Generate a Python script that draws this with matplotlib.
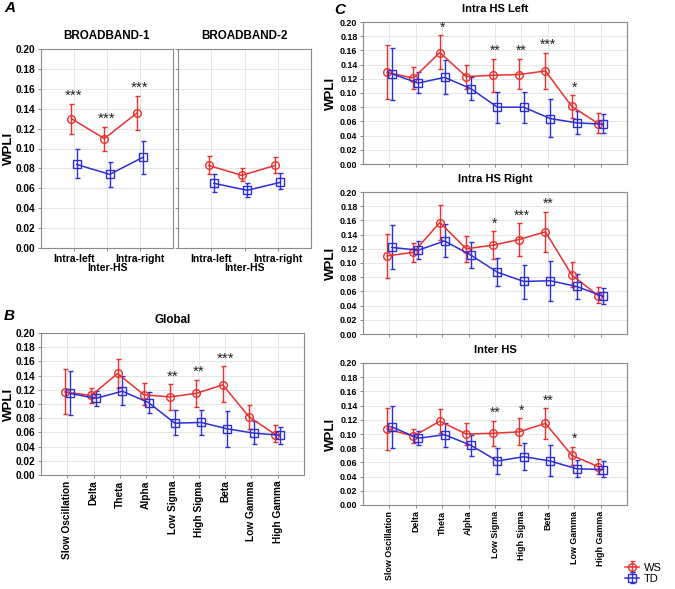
import matplotlib
matplotlib.use("Agg")
import matplotlib.pyplot as plt

plt.rcParams["font.family"] = ["Liberation Sans", "DejaVu Sans"]
plt.rcParams["font.weight"] = "bold"

# ---------------------------------------------------------------------------
# Data
# ---------------------------------------------------------------------------
A_CATS = ["Intra-left", "Inter-HS", "Intra-right"]

BB1_WS = [0.130, 0.110, 0.136]
BB1_WS_LO = [0.115, 0.097, 0.119]
BB1_WS_HI = [0.145, 0.122, 0.153]
BB1_TD = [0.084, 0.074, 0.091]
BB1_TD_LO = [0.070, 0.061, 0.074]
BB1_TD_HI = [0.099, 0.086, 0.108]
BB1_STARS = ["***", "***", "***"]

BB2_WS = [0.083, 0.073, 0.083]
BB2_WS_LO = [0.074, 0.067, 0.075]
BB2_WS_HI = [0.092, 0.080, 0.091]
BB2_TD = [0.065, 0.058, 0.066]
BB2_TD_LO = [0.056, 0.051, 0.059]
BB2_TD_HI = [0.074, 0.065, 0.075]
BB2_STARS = ["", "", ""]

BANDS = ["Slow Oscillation", "Delta", "Theta", "Alpha", "Low Sigma",
         "High Sigma", "Beta", "Low Gamma", "High Gamma"]

GL_WS = [0.117, 0.112, 0.143, 0.113, 0.110, 0.115, 0.127, 0.082, 0.057]
GL_WS_LO = [0.086, 0.101, 0.123, 0.099, 0.092, 0.096, 0.103, 0.065, 0.046]
GL_WS_HI = [0.149, 0.123, 0.164, 0.129, 0.128, 0.134, 0.153, 0.098, 0.070]
GL_TD = [0.115, 0.108, 0.118, 0.102, 0.073, 0.074, 0.065, 0.059, 0.056]
GL_TD_LO = [0.084, 0.097, 0.098, 0.088, 0.056, 0.056, 0.040, 0.043, 0.043]
GL_TD_HI = [0.147, 0.119, 0.139, 0.117, 0.091, 0.092, 0.090, 0.076, 0.068]
GL_STARS = ["", "", "", "", "**", "**", "***", "", ""]

HL_WS = [0.129, 0.121, 0.157, 0.123, 0.125, 0.126, 0.131, 0.081, 0.057]
HL_WS_LO = [0.092, 0.106, 0.134, 0.106, 0.102, 0.105, 0.105, 0.065, 0.044]
HL_WS_HI = [0.167, 0.136, 0.181, 0.140, 0.148, 0.148, 0.157, 0.097, 0.072]
HL_TD = [0.127, 0.114, 0.122, 0.106, 0.080, 0.080, 0.064, 0.058, 0.056]
HL_TD_LO = [0.090, 0.100, 0.099, 0.090, 0.058, 0.058, 0.038, 0.042, 0.043]
HL_TD_HI = [0.164, 0.129, 0.146, 0.122, 0.102, 0.102, 0.091, 0.074, 0.071]
HL_STARS = ["", "", "*", "", "**", "**", "***", "*", ""]

HR_WS = [0.110, 0.115, 0.157, 0.120, 0.125, 0.133, 0.144, 0.083, 0.054]
HR_WS_LO = [0.079, 0.102, 0.133, 0.102, 0.105, 0.110, 0.116, 0.066, 0.043]
HR_WS_HI = [0.141, 0.128, 0.181, 0.138, 0.145, 0.156, 0.172, 0.101, 0.066]
HR_TD = [0.122, 0.118, 0.131, 0.111, 0.087, 0.074, 0.075, 0.067, 0.053]
HR_TD_LO = [0.092, 0.105, 0.108, 0.093, 0.067, 0.050, 0.047, 0.049, 0.042]
HR_TD_HI = [0.153, 0.131, 0.155, 0.129, 0.107, 0.097, 0.103, 0.085, 0.065]
HR_STARS = ["", "", "", "", "*", "***", "**", "", ""]

IH_WS = [0.107, 0.097, 0.118, 0.100, 0.101, 0.103, 0.115, 0.070, 0.054]
IH_WS_LO = [0.077, 0.088, 0.101, 0.085, 0.083, 0.085, 0.093, 0.057, 0.043]
IH_WS_HI = [0.137, 0.107, 0.135, 0.115, 0.119, 0.122, 0.136, 0.082, 0.065]
IH_TD = [0.110, 0.094, 0.099, 0.084, 0.062, 0.068, 0.062, 0.051, 0.050]
IH_TD_LO = [0.080, 0.084, 0.082, 0.069, 0.043, 0.049, 0.041, 0.039, 0.039]
IH_TD_HI = [0.140, 0.104, 0.116, 0.098, 0.080, 0.088, 0.084, 0.064, 0.062]
IH_STARS = ["", "", "", "", "**", "*", "**", "*", ""]

YTICKS = [0.00, 0.02, 0.04, 0.06, 0.08, 0.10, 0.12, 0.14, 0.16, 0.18, 0.20]

# ---------------------------------------------------------------------------
# Style
# ---------------------------------------------------------------------------
C_WS = "#e8312f"
C_TD = "#2e2ed6"
W, H = 675, 589


def _rect(left, top, right, bottom):
    return [left / W, 1 - bottom / H, (right - left) / W, (bottom - top) / H]


def _series(ax, xs, mean, lo, hi, color, marker, label):
    yerr = [[m - l for m, l in zip(mean, lo)], [h - m for m, h in zip(mean, hi)]]
    return ax.errorbar(xs, mean, yerr=yerr, color=color, marker=marker,
                       markersize=5.5, markerfacecolor="none", markeredgewidth=1.0,
                       linewidth=1.1, elinewidth=1.0, capsize=1.8, capthick=1.0,
                       label=label, zorder=3)


def _panel(ax, cats, ws, ws_lo, ws_hi, td, td_lo, td_hi, stars, title,
           off=0.09, rotate=False, ylabels=True, xlabels=True, stagger=False,
           tick_fs=7.3, title_fs=8.4, star_fs=11, label_x=-0.1):
    n = len(cats)
    xs = list(range(n))
    h_ws = _series(ax, [x - off for x in xs], ws, ws_lo, ws_hi, C_WS, "o", "WS")
    h_td = _series(ax, [x + off for x in xs], td, td_lo, td_hi, C_TD, "s", "TD")
    for x, s, top in zip(xs, stars, ws_hi):
        if s:
            ax.text(x, top + 0.001, s, ha="center", va="bottom",
                    fontsize=star_fs, fontweight="normal", color="#222222")
    ax.set_xlim(-1, n)
    ax.set_ylim(0, 0.2)
    ax.set_yticks(YTICKS)
    ax.set_xticks(xs)
    if ylabels:
        ax.set_yticklabels([f"{v:.2f}" for v in YTICKS])
        ax.set_ylabel("WPLI", fontsize=9.5, fontweight="bold")
        ax.yaxis.set_label_coords(label_x, 0.5)
    else:
        ax.set_yticklabels([])
        ax.tick_params(axis="y", length=0)
    if stagger:
        # middle category sits one line lower, as in the original
        ax.set_xticklabels([c if i != 1 else "" for i, c in enumerate(cats)],
                           fontsize=7.5)
        ax.text(1, -0.0155, cats[1], ha="center", va="top", fontsize=7.5,
                fontweight="bold", transform=ax.transData, clip_on=False)
    elif xlabels:
        ax.set_xticklabels(cats, rotation=90 if rotate else 0)
    else:
        ax.set_xticklabels([])
    ax.tick_params(axis="both", labelsize=tick_fs, length=2, width=0.6,
                   color="#777777", pad=2)
    if stagger:
        ax.tick_params(axis="x", labelsize=7.5)
    ax.set_title(title, fontsize=title_fs, fontweight="bold", pad=7)
    ax.grid(True, color="#e2e2e2", linewidth=0.6)
    ax.set_axisbelow(True)
    for sp in ax.spines.values():
        sp.set_color("#8a8a8a")
        sp.set_linewidth(0.8)
    return h_ws, h_td


def main():
    fig = plt.figure(figsize=(6.75, 5.89), dpi=100)

    ax1 = fig.add_axes(_rect(41, 49, 173, 248))
    _panel(ax1, A_CATS, BB1_WS, BB1_WS_LO, BB1_WS_HI, BB1_TD, BB1_TD_LO,
           BB1_TD_HI, BB1_STARS, "BROADBAND-1", off=0.08, stagger=True,
           label_x=-0.197)
    ax2 = fig.add_axes(_rect(178, 49, 311, 248))
    _panel(ax2, A_CATS, BB2_WS, BB2_WS_LO, BB2_WS_HI, BB2_TD, BB2_TD_LO,
           BB2_TD_HI, BB2_STARS, "BROADBAND-2", off=0.08, ylabels=False,
           stagger=True)

    ax3 = fig.add_axes(_rect(41, 333, 304, 475))
    _panel(ax3, BANDS, GL_WS, GL_WS_LO, GL_WS_HI, GL_TD, GL_TD_LO, GL_TD_HI,
           GL_STARS, "Global", rotate=True, label_x=-0.099)

    c_kw = dict(tick_fs=6.4, title_fs=8.0, star_fs=10, label_x=-0.098)
    ax4 = fig.add_axes(_rect(363, 22, 627, 164))
    _panel(ax4, BANDS, HL_WS, HL_WS_LO, HL_WS_HI, HL_TD, HL_TD_LO, HL_TD_HI,
           HL_STARS, "Intra HS Left", xlabels=False, **c_kw)
    ax5 = fig.add_axes(_rect(363, 192, 627, 334))
    _panel(ax5, BANDS, HR_WS, HR_WS_LO, HR_WS_HI, HR_TD, HR_TD_LO, HR_TD_HI,
           HR_STARS, "Intra HS Right", xlabels=False, **c_kw)
    ax6 = fig.add_axes(_rect(363, 363, 627, 505))
    h_ws, h_td = _panel(ax6, BANDS, IH_WS, IH_WS_LO, IH_WS_HI, IH_TD, IH_TD_LO,
                        IH_TD_HI, IH_STARS, "Inter HS", rotate=True, **c_kw)

    for letter, x, y in [("A", 4, 8), ("B", 4, 316), ("C", 334, 10)]:
        fig.text(x / W, 1 - y / H, letter, fontsize=11, fontweight="bold",
                 fontstyle="italic", ha="left", va="center")

    fig.legend([h_ws, h_td], ["WS", "TD"], loc="lower right",
               bbox_to_anchor=(0.995, -0.008), frameon=False,
               handlelength=1.3, handletextpad=0.4, labelspacing=0.1,
               prop={"weight": "normal", "size": 8})

    fig.savefig("out.png", dpi=100)
    plt.close(fig)


if __name__ == "__main__":
    main()
